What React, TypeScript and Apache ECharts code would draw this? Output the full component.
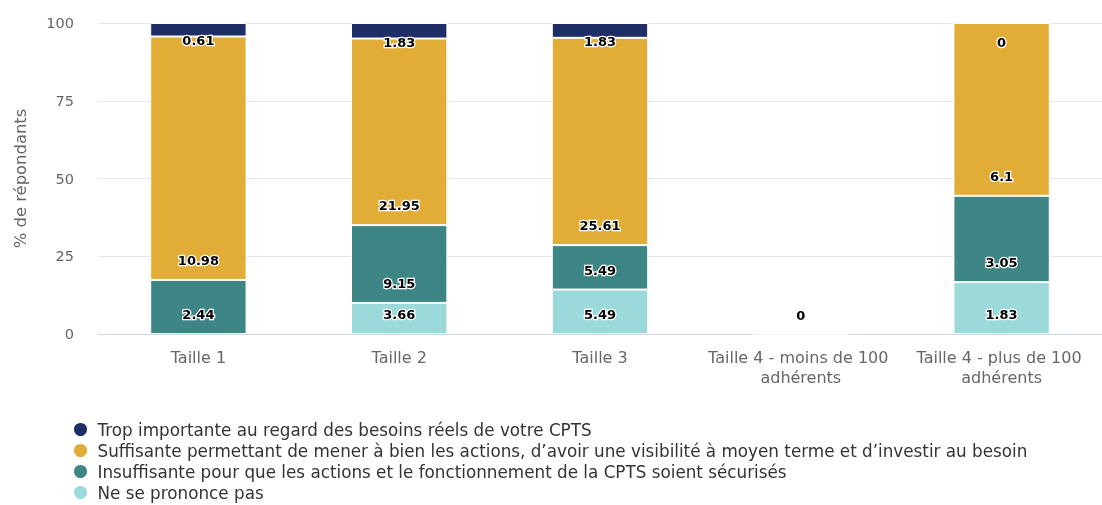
import React, { useEffect, useRef } from "react";
import * as echarts from "echarts";

const categories = [
  "Taille 1",
  "Taille 2",
  "Taille 3",
  "Taille 4 - moins de 100 adhérents",
  "Taille 4 - plus de 100 adhérents",
];
const seriesNames = [
  "Trop importante au regard des besoins réels de votre CPTS",
  "Suffisante permettant de mener à bien les actions, d’avoir une visibilité à moyen terme et d’investir au besoin",
  "Insuffisante pour que les actions et le fonctionnement de la CPTS soient sécurisés",
  "Ne se prononce pas",
];
const tropImportante: (number | null)[] = [0.61, 1.83, 1.83, null, 0];
const suffisante: (number | null)[] = [10.98, 21.95, 25.61, null, 6.1];
const insuffisante: (number | null)[] = [2.44, 9.15, 5.49, null, 3.05];
const nePrononcePas: (number | null)[] = [null, 3.66, 5.49, 0, 1.83];
const yTicks = [0, 25, 50, 75, 100];

const colors = ["#1f2e66", "#e2ad36", "#3d8685", "#9bd9da"];
const FONT = "DejaVu Sans";

export default function App() {
  const ref = useRef<HTMLDivElement>(null);
  useEffect(() => {
    if (!ref.current) return;
    const chart = echarts.init(ref.current, null, { renderer: "svg" });
    const raw = [tropImportante, suffisante, insuffisante, nePrononcePas];
    const totals = categories.map((_, i) =>
      raw.reduce((s, arr) => s + (arr[i] ?? 0), 0)
    );
    const labelBase = {
      show: true,
      fontFamily: FONT,
      fontSize: 13,
      fontWeight: "bold" as const,
      color: "#000",
      textBorderColor: "#fff",
      textBorderWidth: 2.5,
    };
    // stacking order: bottom first in ECharts
    const order = [3, 2, 1, 0];
    const series = order.map((si) => {
      const arr = raw[si];
      return {
        name: seriesNames[si],
        type: "bar",
        stack: "total",
        barWidth: "48%",
        itemStyle: { color: colors[si], borderColor: "#fff", borderWidth: 1 },
        label:
          si === 0
            ? {
                ...labelBase,
                position: ["50%", "100%"],
                align: "center",
                verticalAlign: "middle",
                offset: [0, 4],
                formatter: (p: any) => String(arr[p.dataIndex]),
              }
            : {
                ...labelBase,
                position: "insideBottom",
                distance: 13,
                formatter: (p: any) => String(arr[p.dataIndex]),
              },
        data: arr.map((v, i) => {
          if (v === null) return null;
          const pct = totals[i] > 0 ? (v / totals[i]) * 100 : 0;
          if (si === 0 && v === 0) {
            return { value: pct, label: { offset: [0, 19] } };
          }
          return pct;
        }),
      };
    });
    chart.setOption({
      animation: false,
      color: colors,
      grid: { left: 98, top: 23, width: 1016, height: 311 },
      legend: {
        data: seriesNames,
        orient: "vertical",
        left: 72,
        top: 421,
        height: 84,
        padding: 0,
        icon: "circle",
        itemWidth: 24,
        itemHeight: 15,
        itemGap: 4,
        textStyle: { fontFamily: FONT, fontSize: 16.8, lineHeight: 17, color: "#333" },
      },
      xAxis: {
        type: "category",
        data: categories,
        axisLine: { lineStyle: { color: "#ccd6eb" } },
        axisTick: { show: false },
        axisLabel: {
          interval: 0,
          fontFamily: FONT,
          fontSize: 16,
          color: "#666",
          margin: 13,
          lineHeight: 20,
          width: 195,
          overflow: "break",
        },
      },
      yAxis: {
        type: "value",
        min: 0,
        max: 100,
        interval: 25,
        name: "% de répondants",
        nameLocation: "middle",
        nameGap: 70,
        nameTextStyle: { fontFamily: FONT, fontSize: 16.4, color: "#666" },
        axisLabel: {
          fontFamily: FONT,
          fontSize: 14.5,
          color: "#666",
          margin: 24,
          formatter: (v: number) => (yTicks.includes(v) ? String(v) : ""),
        },
        splitLine: { lineStyle: { color: "#e6e6e6" } },
      },
      series,
    });
    return () => chart.dispose();
  }, []);
  return (
    <div
      ref={ref}
      style={{ position: "fixed", left: 0, top: 0, width: 1102, height: 505, overflow: "hidden" }}
    />
  );
}
